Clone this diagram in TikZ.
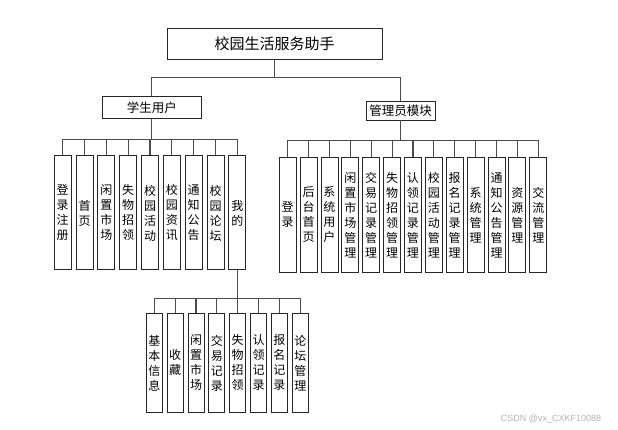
\documentclass[tikz,border=0pt]{standalone}
\usepackage{fontspec}
\setmainfont{Noto Sans CJK SC}
\newfontfamily\markfont{Liberation Sans}
\tikzset{
	box/.style={draw=black!85, line width=0.9pt, fill=white, inner sep=0pt},
	leaf/.style={box, anchor=north, minimum width=17pt, align=center,
		font=\fontsize{12}{15}\selectfont},
	conn/.style={draw=black!70, line width=1.1pt},
}
\begin{document}
\begin{tikzpicture}[x=1pt,y=-1pt]
	\useasboundingbox (0,0) rectangle (618,430);

	% Titolo e moduli
	\node[box, minimum width=215pt, minimum height=31pt, font=\fontsize{15}{17}\selectfont]
		(root) at (274.5,43.5) {校园生活服务助手};
	\node[box, minimum width=99pt, minimum height=22pt, font=\fontsize{12.5}{14}\selectfont]
		(stu) at (151.8,107.7) {学生用户};
	\node[box, minimum width=69pt, minimum height=19pt, font=\fontsize{12.5}{14}\selectfont]
		(adm) at (400.5,110.5) {管理员模块};
	\draw[conn] (root.south) -- ++(0,18.5) -| (stu.north);
	\draw[conn] (root.south) -- ++(0,18.5) -| (adm.north);

	% Figli dello studente
	\foreach \t [count=\i from 0] in {登\\录\\注\\册, 首\\页, 闲\\置\\市\\场, 失\\物\\招\\领,
		校\\园\\活\\动, 校\\园\\资\\讯, 通\\知\\公\\告, 校\\园\\论\\坛, 我\\的}
	{
		\node[leaf, minimum height=114pt] (s\i) at (62.7+21.83*\i,155.5) {\t};
		\draw[conn] (stu.south) -- ++(0,20.5) -| (s\i.north);
	}

	% Figli di "mio"
	\foreach \t [count=\i from 0] in {基\\本\\信\\息, 收\\藏, 闲\\置\\市\\场, 交\\易\\记\\录,
		失\\物\\招\\领, 认\\领\\记\\录, 报\\名\\记\\录, 论\\坛\\管\\理}
	{
		\node[leaf, minimum width=16pt, minimum height=99pt] (m\i) at (154.3+20.86*\i,313) {\t};
		\draw[conn] (s8.south) -- ++(0,28) -| (m\i.north);
	}

	% Figli dell'amministratore
	\foreach \t [count=\i from 0] in {登\\录, 后\\台\\首\\页, 系\\统\\用\\户, 闲\\置\\市\\场\\管\\理,
		交\\易\\记\\录\\管\\理, 失\\物\\招\\领\\管\\理, 认\\领\\记\\录\\管\\理, 校\\园\\活\\动\\管\\理,
		报\\名\\记\\录\\管\\理, 系\\统\\管\\理, 通\\知\\公\\告\\管\\理, 资\\源\\管\\理, 交\\流\\管\\理}
	{
		\node[leaf, minimum height=115pt] (a\i) at (287.7+20.88*\i,157) {\t};
		\draw[conn] (adm.south) -- ++(0,20.5) -| (a\i.north);
	}

	% Filigrana
	\node[text=black!30, font=\markfont\fontsize{9}{10}\selectfont] (mark) at (551,419) {CSDN @vx\_CXKF10088};
\end{tikzpicture}
\end{document}
